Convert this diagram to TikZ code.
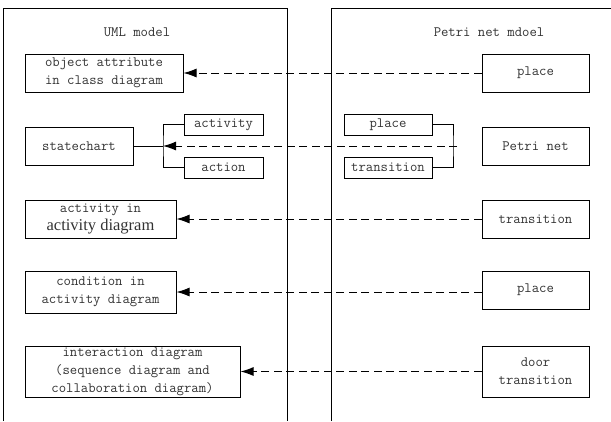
\documentclass[tikz,border=0pt]{standalone}
\usepackage{fontspec}
\newfontfamily\bodyserif{Liberation Serif}
\usetikzlibrary{arrows.meta}
\definecolor{ink}{HTML}{333333}
\tikzset{
  box/.style={draw=black, line width=1pt, inner sep=0pt, align=center,
    font=\fontsize{14.3}{18}\ttfamily, text=ink},
  panel/.style={draw=black, line width=1pt},
  link/.style={draw=black, line width=1pt},
  dasharrow/.style={draw=black, line width=1pt, dash pattern=on 8pt off 4.5pt,
    -{Latex[length=13pt,width=9pt]}},
  heading/.style={font=\fontsize{14.3}{17}\ttfamily, text=ink}
}
\begin{document}
\begin{tikzpicture}[x=1pt,y=-1pt]
\useasboundingbox (0,0) rectangle (611,421);

% the two model panels (open at the bottom and on the far right)
\draw[panel] (3,421) -- (3,8) -- (287,8) -- (287,421);
\draw[panel] (331,421) -- (331,8) -- (611,8);
\node[heading] (umlhead) at (137,32) {UML model};
\node[heading] (pethead) at (489,32) {Petri net mdoel};

% UML side
\node[box, minimum width=158pt, minimum height=38pt] (uml1) at (104,73) {object attribute\\in class diagram};
\node[box, minimum width=108pt, minimum height=38pt] (state) at (79,146) {statechart};
\node[box, minimum width=79pt, minimum height=21pt] (act) at (223.5,124.5) {activity};
\node[box, minimum width=79pt, minimum height=21pt] (action) at (223.5,167.5) {action};
\node[box, minimum width=151pt, minimum height=38pt] (uml3) at (100.5,219) {activity in\\{\bodyserif\fontsize{16.5}{18}\selectfont activity diagram}};
\node[box, minimum width=151pt, minimum height=42pt] (uml4) at (100.5,292) {condition in\\activity diagram};
\node[box, minimum width=215pt, minimum height=51pt] (uml5) at (132.5,371.5) {interaction diagram\\(sequence diagram and\\collaboration diagram)};

% Petri net side
\node[box, minimum width=107pt, minimum height=38pt] (pet1) at (535.5,73) {place};
\node[box, minimum width=88pt, minimum height=21pt] (pplace) at (388,124.5) {place};
\node[box, minimum width=88pt, minimum height=21pt] (ptrans) at (388,167.5) {transition};
\node[box, minimum width=107pt, minimum height=38pt] (pnet) at (535.5,146) {Petri net};
\node[box, minimum width=107pt, minimum height=38pt] (pet3) at (535.5,219) {transition};
\node[box, minimum width=107pt, minimum height=38pt] (pet4) at (535.5,290) {place};
\node[box, minimum width=107pt, minimum height=51pt] (pet5) at (535.5,371.5) {door\\transition};

% brackets grouping the statechart parts
\coordinate (jl) at (163,146);
\coordinate (jr) at (453,146);
\coordinate (js) at (457,146);
\draw[link] (state.east) -- (jl);
\draw[link] (act.west) -| (jl) |- (action.west);
\draw[link] (pplace.east) -| (jr) |- (ptrans.east);

% mappings from Petri net elements to UML elements
\draw[dasharrow] (pet1.west |- uml1.east) -- (uml1.east);
\draw[dasharrow] (js) -- (jl);
\draw[dasharrow] (pet3.west |- uml3.east) -- (uml3.east);
\draw[dasharrow] (pet4.west |- uml4.east) -- (uml4.east);
\draw[dasharrow] (pet5.west |- uml5.east) -- (uml5.east);
\end{tikzpicture}
\end{document}
